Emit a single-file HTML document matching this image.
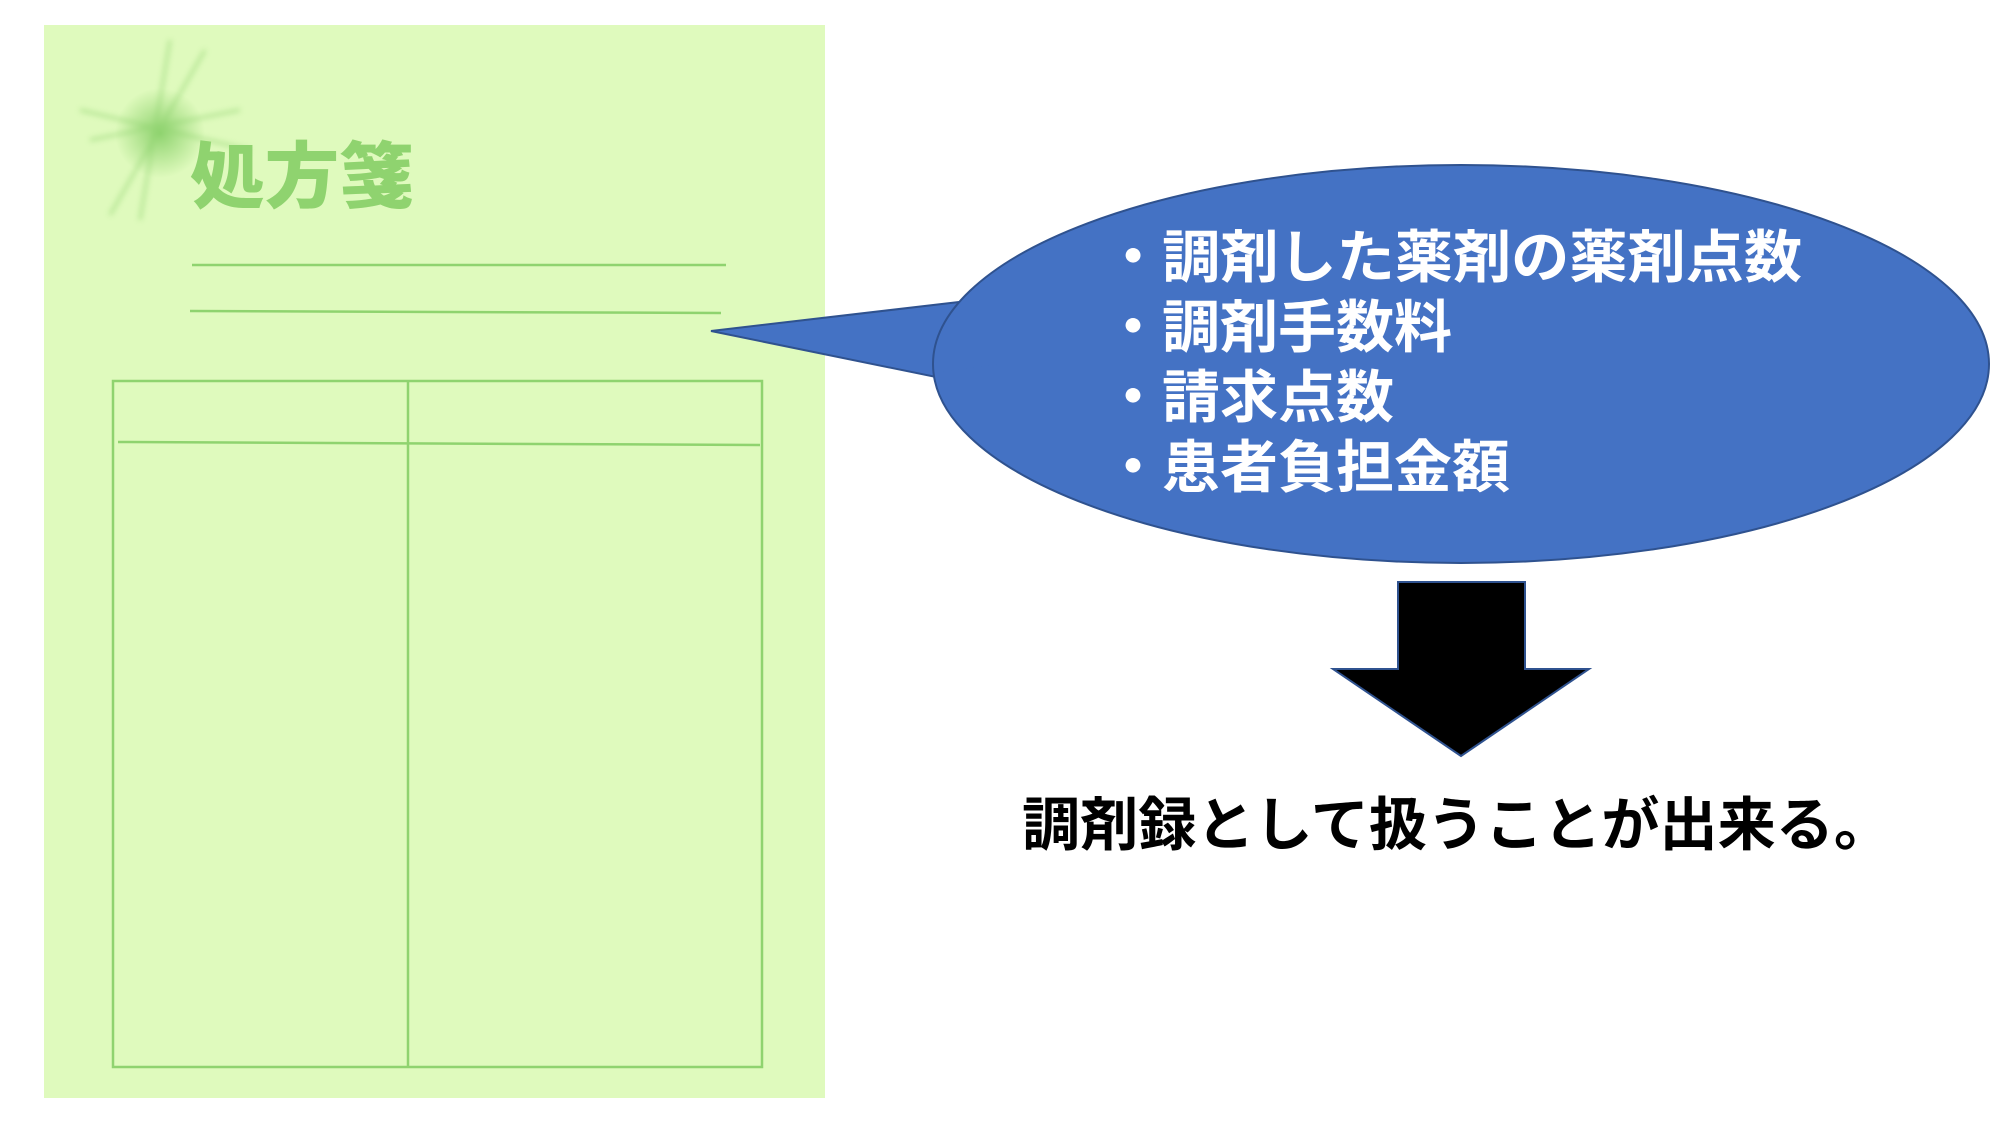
<!DOCTYPE html>
<html><head><meta charset="utf-8"><style>
html,body{margin:0;padding:0;background:#fff;}
svg{display:block;}
</style></head><body>
<svg width="1991" height="1125" viewBox="0 0 1991 1125" xmlns="http://www.w3.org/2000/svg">
<defs>
<radialGradient id="g" cx="0.5" cy="0.5" r="0.5">
<stop offset="0" stop-color="#8fd36f" stop-opacity="1"/>
<stop offset="1" stop-color="#8fd36f" stop-opacity="0"/>
</radialGradient>
<filter id="b"><feGaussianBlur stdDeviation="3"/></filter>
</defs>
<rect x="44" y="25" width="781" height="1073" fill="#dffabd"/>
<g filter="url(#b)" stroke="#8fd36f" stroke-width="3" opacity="0.6">
<line x1="110" y1="215" x2="205" y2="50"/>
<line x1="80" y1="110" x2="250" y2="150"/>
<line x1="90" y1="140" x2="240" y2="110"/>
<line x1="140" y1="220" x2="170" y2="40"/>
</g>
<circle cx="160" cy="133" r="45" fill="url(#g)"/>
<text x="190" y="202" font-family="'Liberation Sans','Noto Sans CJK JP',sans-serif" font-weight="900" font-size="72" fill="#8fd36f" textLength="224" lengthAdjust="spacingAndGlyphs">処方箋</text>
<g stroke="#8fd36f" stroke-width="2.5" fill="none">
<line x1="192" y1="265" x2="726" y2="265"/>
<line x1="190" y1="311" x2="721" y2="313"/>
<rect x="113" y="381" width="649" height="686"/>
<line x1="408" y1="381" x2="408" y2="1067"/>
<line x1="118" y1="442" x2="760" y2="445"/>
</g>
<path d="M959,302 L711,331 L936,377 Z" fill="#4472c4" stroke="#2f528f" stroke-width="2"/>
<ellipse cx="1461" cy="364" rx="528" ry="199" fill="#4472c4" stroke="#2f528f" stroke-width="2"/>
<path d="M962,305 L940,372 L1000,364 Z" fill="#4472c4"/>
<g font-family="'Liberation Sans','Noto Sans CJK JP',sans-serif" font-weight="bold" font-size="57" fill="#fff">
<text x="1104" y="277" textLength="698" lengthAdjust="spacingAndGlyphs">・調剤した薬剤の薬剤点数</text>
<text x="1104" y="347" textLength="348" lengthAdjust="spacingAndGlyphs">・調剤手数料</text>
<text x="1104" y="417" textLength="290" lengthAdjust="spacingAndGlyphs">・請求点数</text>
<text x="1104" y="487" textLength="406" lengthAdjust="spacingAndGlyphs">・患者負担金額</text>
</g>
<path d="M1398,582 L1525,582 L1525,669 L1589,669 L1461,756 L1333,669 L1398,669 Z" fill="#000" stroke="#2f528f" stroke-width="2"/>
<text x="1022" y="845" font-family="'Liberation Sans','Noto Sans CJK JP',sans-serif" font-weight="bold" font-size="58" fill="#000" textLength="870" lengthAdjust="spacingAndGlyphs">調剤録として扱うことが出来る。</text>
</svg>
</body></html>
